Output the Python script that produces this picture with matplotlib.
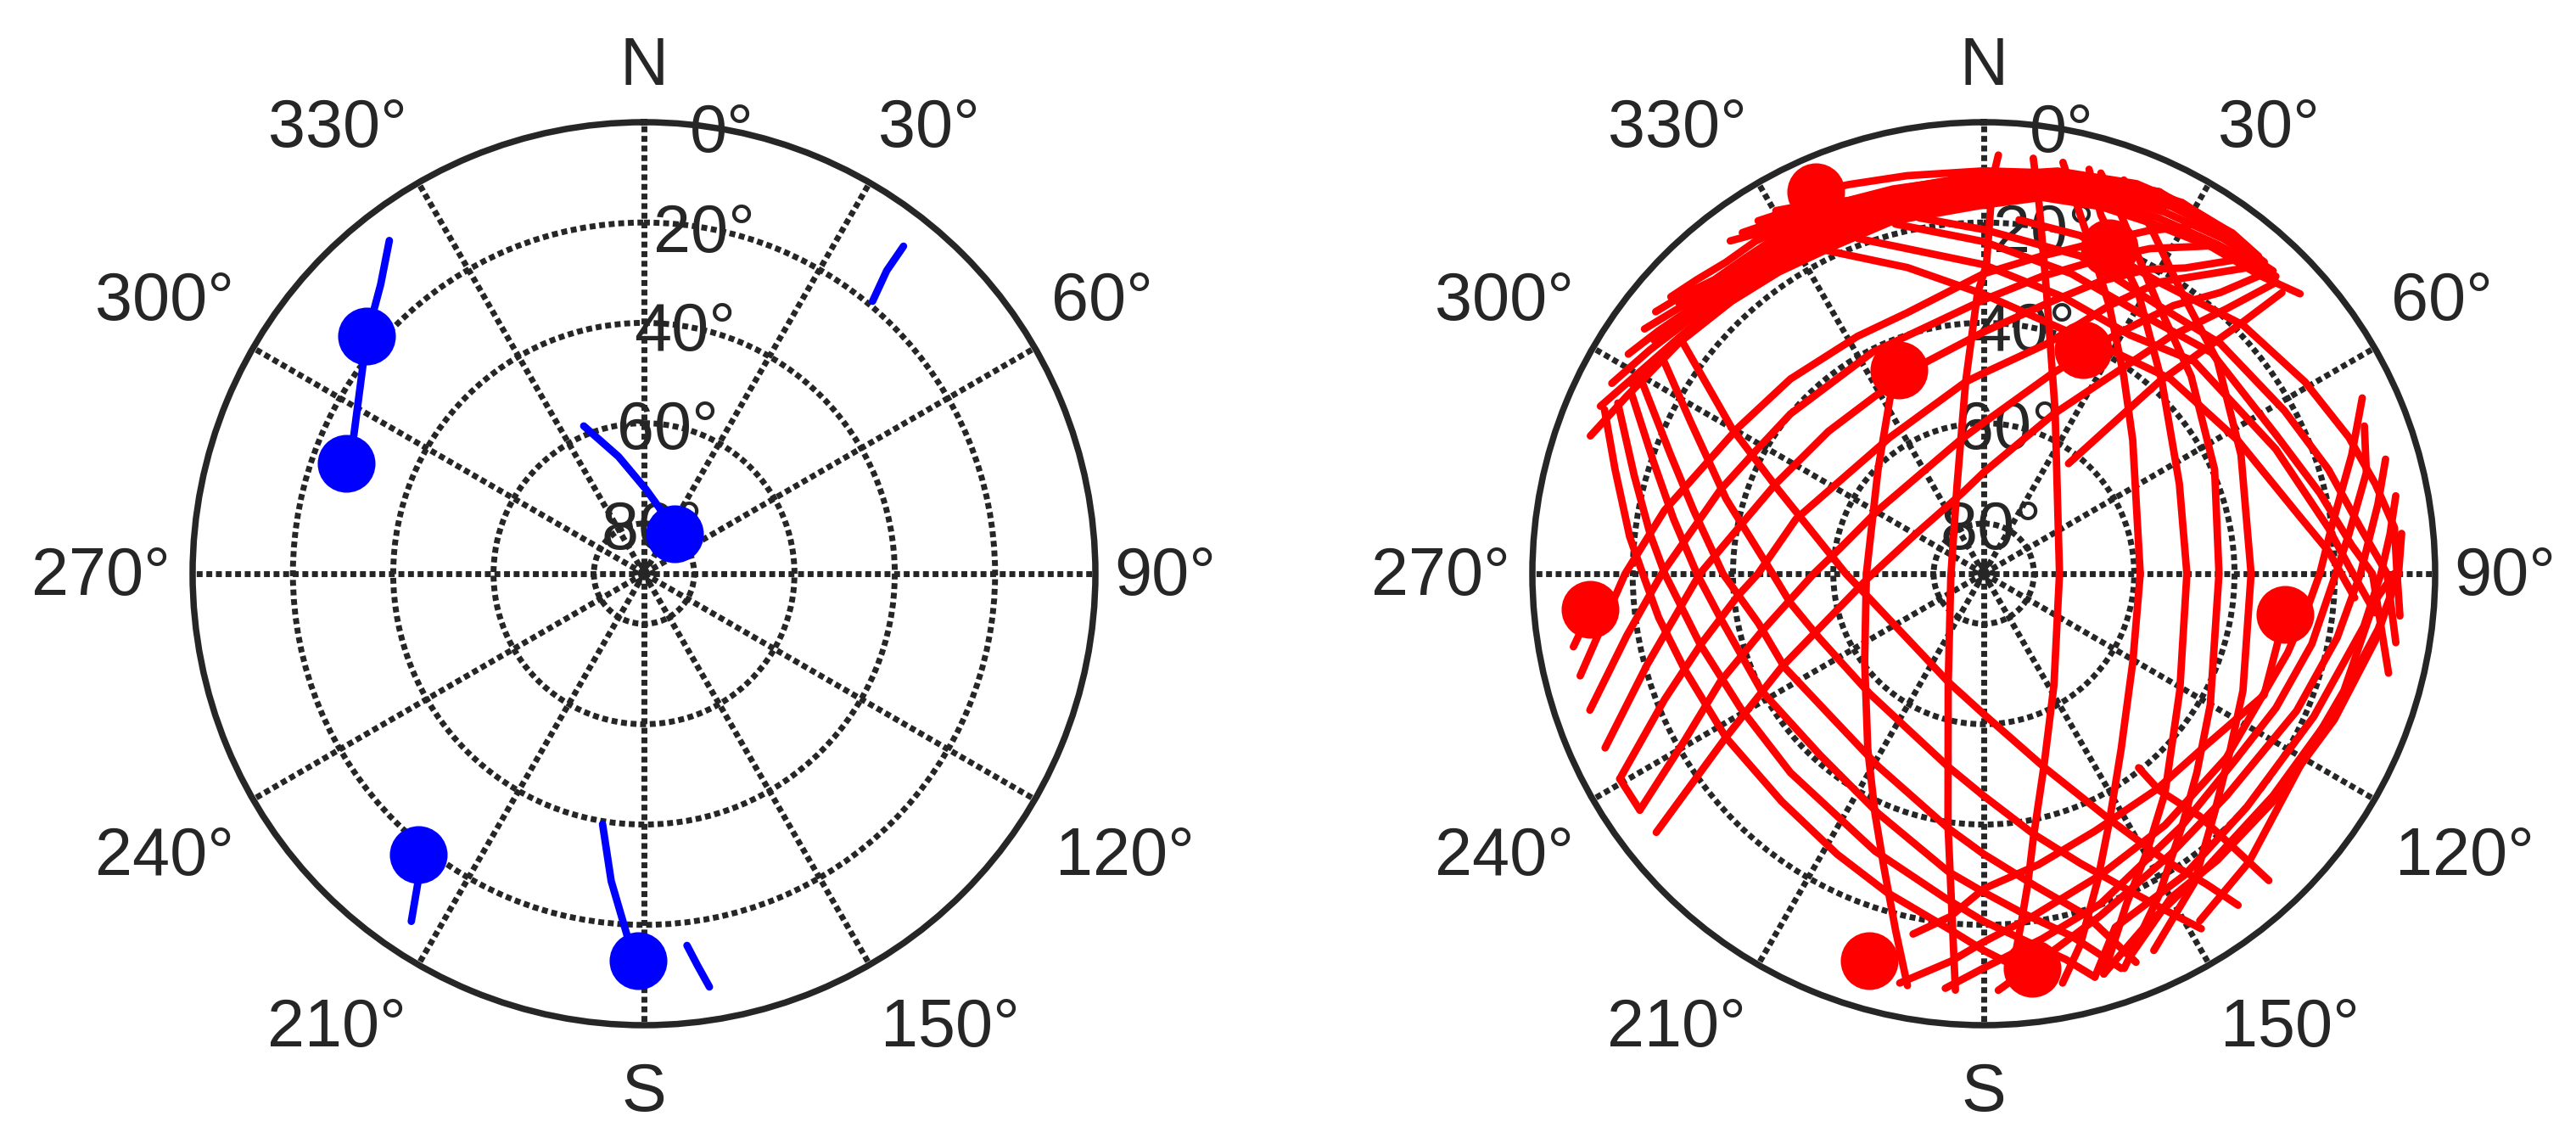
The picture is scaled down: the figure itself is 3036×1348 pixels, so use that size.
# skyplot of two satellite sets, azimuth clockwise from north, elevation 90 in the middle
import numpy as np
import matplotlib
matplotlib.use("Agg")
import matplotlib.pyplot as plt

plt.rcParams['font.family'] = ['Liberation Sans', 'DejaVu Sans']

DARK = "#262626"
W, H = 3036, 1348
CENTER_Y = 676
RADIUS = 532
PANEL_X = [759, 2338]

blue_dot_az = [310.6, 290.3, 37.5, 218.8, 180.9]
blue_dot_el = [17.2, 26.7, 80, 18.2, 12.8]

blue_az = [
    [322.6, 317.7, 314.5, 310.6, 295.5, 290.3],
    [38.4, 38.7, 40],
    [337.8, 347.7, 1.1, 13, 37.5],
    [218.8, 216.1, 213.8],
    [189.4, 186.1, 182.7, 180.9],
    [173.4, 172.2, 171],
]
blue_el = [
    [6.4, 12, 14.6, 17.2, 25.9, 26.7],
    [6.7, 12.6, 19.1],
    [58.2, 66.1, 73.1, 76.5, 80],
    [18.2, 13.4, 6.6],
    [39.4, 28.4, 17.9, 12.8],
    [15.4, 11.1, 6.6],
]

red_dot_az = [336.2, 337.3, 21.1, 23.9, 264.8, 196.5, 97.7, 173]
red_dot_el = [6.8, 46, 20.3, 41.1, 11.1, 9.5, 29.4, 10.8]

red_az = [
    [259.9, 261.2, 267.4],
    [255.8, 260.8, 270, 281.2, 292.3, 300.6, 315.2, 332, 343.6, 0, 10.4, 19.4, 25.5, 30.5],
    [250.9, 260.2, 270, 287.7, 297.2, 309.6, 333.2, 0, 11.1, 20.4, 27.1, 34.8],
    [245.3, 254.9, 270, 282.2, 293.3, 312.5, 328.5, 345.2, 0, 13.4, 21.8, 28.3, 33.4, 38.4],
    [240.6, 248.5, 256.1, 264.9, 270, 286.2, 325.4, 354.6, 0, 15.3, 25.1, 31, 37.2, 40.8],
    [235.5, 240.9, 247.7, 255.3, 270, 280, 300.9, 349.8, 0, 18.6, 28.8, 35.3, 40.1, 42.9],
    [231.7, 237.6, 245.2, 267.8, 299.3, 345.4, 0, 23.7, 33.2, 38.2, 42.5, 45.1],
    [37.6, 42.4, 45.8, 46.7],
    [240.6, 235.5],
    [289.3, 296.4, 307.2, 317.2, 325.8, 335.2, 345.5, 0, 8.8, 17.7, 25.9, 34.9, 43, 48.5],
    [293.6, 300.2, 308.4, 317.4, 326.4, 335.4, 345.7, 0, 8.7, 17.4, 26.2, 35.4, 44.5],
    [297.1, 303.9, 310, 318.1, 327, 335.8, 345.8, 0, 8.6, 18, 26.6, 35.6, 43.7],
    [301.7, 306.8, 312.2, 319.2, 327.6, 336.2, 346, 0, 8.5, 17.8, 27, 36, 42],
    [305.8, 310.2, 314.9, 320.9, 328.2, 336.5, 346.2, 0, 9.3, 18.5, 27.5, 36.1, 40.9],
    [308.6, 313.1, 317.5, 322.6, 328.8, 336.9, 346.3, 0, 9.2, 19.2, 28.2, 35.2],
    [311.5, 315.7, 320.4, 325.5, 330.1, 337.1, 346.5, 0, 10, 19.9, 28.1, 34],
    [322.7, 326.9, 331.5, 337.4, 346.6, 0, 10.9, 20.6, 27, 32],
    [324.7, 329.5, 333.9, 338.4, 346.7, 0, 10.4, 21.4, 26.4, 29.2],
    [327.4, 331.1, 336.9, 340.1, 348.8, 0, 11.6, 24.7],
    [330.2, 334.8, 339.6, 348.7, 0, 10.4, 20.6],
    [336.2, 340.9, 349.1, 0, 8.3, 16.6, 24.7, 32.1, 37.9],
    [2, 1.3, 0.5, 358.7, 354.6, 342.8, 264.4, 197.8, 188.1, 183.9],
    [6.8, 8.6, 12.7, 23.7, 90, 147.7, 162.7, 169.3, 171.9, 173.8, 175.1],
    [10.9, 14.3, 18.5, 25.1, 35.3, 48.1, 90, 120.5, 141.9, 153.2, 159.6, 165.4, 169.1],
    [14.6, 18.1, 29, 42.9, 65.4, 90, 120.8, 140.4, 149.5, 156.6, 163.3],
    [16.3, 21, 32.2, 46.4, 65.7, 90, 120.1, 133, 141.7, 151.4, 160.4],
    [19.6, 25.7, 35.4, 47.7, 65.2, 90, 114.3, 126.4, 136.1, 145.8, 155.7],
    [337.3, 331.7, 314.6, 270, 233.6, 213.5, 204.4, 198.9, 193.9, 190.5],
    [191.1, 185.6, 180, 169.3, 156.7, 141.3, 128.6, 113.4, 97.7],
    [65.1, 72.1, 82.5, 90, 95.7, 104.6, 127.2, 144.2, 158.8, 171.7, 180, 184.8, 191.6],
    [68.8, 75.2, 83.7, 90, 102.1, 114.7, 126.7, 141.7, 160.5, 170.9, 180, 185.3],
    [74.1, 80, 90, 100.3, 113.7, 132.5, 146.3, 161.1, 168.9, 178],
    [79.3, 84.4, 90, 97.9, 113.4, 131.6, 146.3, 159.6, 164.6],
    [84.5, 90, 98, 111.4, 127.5, 143, 156.1, 163.3],
    [90, 99.7, 112.6, 127.6, 140.8, 150, 159.1],
    [90, 94.1, 108, 121, 137.4, 148.1],
    [293.4, 285.8, 276, 270, 262.3, 252.1, 237.6, 221.6, 207.6, 196.9, 185.2, 180, 175.7, 173.5],
    [295, 285.7, 276.8, 270, 256.1, 241.1, 224.2, 201.4, 186.8, 180, 173.2, 168, 164.6],
    [297.1, 288.9, 280, 270, 260.6, 242.3, 222.2, 203.8, 186.8, 180, 173.6, 166.4, 160.8],
    [299.1, 290.8, 282.3, 270, 257.6, 244.9, 225.7, 208.7, 188, 180, 170.5, 163.3, 158.6],
    [303.9, 297.3, 286.2, 270, 261.4, 248.6, 223.7, 190.5, 180, 169.2, 161.6, 155.6, 151.7, 148.5],
    [307.6, 300, 292.2, 270, 256.9, 198.2, 180, 162.5, 152.9, 147.7, 144.4, 142.5],
    [141.4, 141, 138.3, 137.5, 137.1],
    [5.7, 15.9, 31, 46.1, 59.2, 69.5, 77.1, 83.6, 90, 95.8],
    [349.7, 0, 16.9, 33.2, 45.8, 61.6, 73.2, 83.1, 90, 99.5],
    [345.8, 0, 16.3, 32.6, 45.9, 64.5, 76.5, 85.6, 90, 103.8],
    [339.4, 0, 15.9, 31.5, 44.7, 66.9, 82.4, 88.8, 95.7],
    [333.9, 346, 0, 17.9, 30.7, 43.8, 62.3, 79.7, 86.3, 93.7],
    # tracks that cannot be told apart inside the solid band in the north-west
    [305.3, 311.1, 318.6, 327.3, 336, 345.9, 0],
    [311.6, 316.2, 321.7, 328.5, 336.7, 346.2, 0],
    [298.3, 307.8, 317.3, 326.1, 335.3, 345.6, 0],
]
red_el = [
    [6.9, 8.2, 13.5],
    [7, 12, 18.5, 25.1, 30.7, 33, 35.3, 36.4, 35.8, 30.2, 25.6, 19.8, 14.3, 9.7],
    [6.9, 17.8, 25.8, 34.9, 38.1, 40, 40.6, 35.4, 29.6, 23.1, 17.2, 10.4],
    [6.9, 20.5, 33.4, 41, 44.8, 48, 48.5, 46.2, 41.8, 34.5, 27.2, 21.1, 17, 10.3],
    [6.7, 21.6, 32, 40.8, 45, 51, 57, 51.6, 50, 42.5, 31, 22.2, 14.9, 9.4],
    [6.8, 21.8, 33.2, 44.1, 56.1, 60.9, 65.4, 63, 59.9, 48.1, 35.7, 24.5, 16.7, 8.7],
    [6.8, 29.1, 45.6, 66.9, 74.2, 73.3, 69.8, 55.2, 42.2, 29.8, 18.4, 7.7],
    [62.3, 38.2, 18.4, 8.3],
    [6.7, 6.8],
    [6.9, 10.5, 13.8, 16, 17.3, 18.2, 17.4, 16.5, 14.1, 13.2, 12.5, 10.6, 8.9, 5.8],
    [6.6, 10.4, 13.3, 15, 16.1, 16.9, 16.5, 15.6, 13, 12, 11, 9.5, 6.9],
    [6.7, 9.9, 12.3, 14.1, 14.9, 15.8, 15.7, 14.7, 12.4, 10.9, 9.4, 7.9, 6.5],
    [6.7, 9.1, 11.3, 13.2, 13.6, 14.7, 14.8, 13.9, 11.5, 10, 7.8, 6.7, 6.4],
    [6.6, 9, 11, 12.2, 12.4, 13.7, 14, 13, 10.8, 9.1, 6.8, 5.9, 6.3],
    [6.3, 8.4, 10.5, 11.1, 11.2, 12.6, 13.1, 12.4, 10.2, 8.5, 6.2, 6.1],
    [6.7, 8.1, 9.4, 9.6, 10.3, 11.8, 12.5, 11.8, 9.4, 7.8, 6.1, 6.6],
    [6.6, 8.8, 9.3, 11, 11.7, 11.2, 9.2, 7.1, 6.4, 6.4],
    [6.7, 8.4, 9.1, 10.6, 11.2, 10.7, 8.4, 6.5, 6.4, 6.4],
    [6.5, 7.7, 9.5, 10.9, 11.5, 10.4, 9, 6.2],
    [6.6, 8.6, 11, 11.8, 11.2, 9.6, 7.4],
    [6.8, 7.9, 9.2, 9.7, 9.2, 8.4, 6.2, 6.7, 6.5],
    [6.5, 11.2, 28.4, 34.2, 51.6, 71.9, 83.4, 66.8, 39.4, 6.8],
    [6.6, 15.9, 32.9, 54.6, 74.9, 63.8, 49.7, 36.6, 27.6, 20.3, 14.6],
    [6.5, 14.4, 22, 31, 41.7, 50.1, 58.8, 55.5, 45.6, 34.5, 24.8, 13.6, 6.9],
    [6.7, 14.8, 26.3, 37.8, 47.1, 49.5, 44.5, 33.3, 25.8, 18.3, 6.7],
    [6.8, 13.5, 25.5, 32.9, 39.5, 43.1, 37.8, 31.9, 26.1, 17, 6.5],
    [6.7, 13.3, 21.6, 27, 33.5, 36.7, 33.3, 29.2, 23.7, 15.4, 7.6],
    [46, 50.5, 60.4, 66.6, 60.5, 48.1, 37.5, 28.4, 16.8, 6.5],
    [16.8, 21.3, 27.2, 31, 34.1, 34.9, 34.2, 29.1, 29.4],
    [6.8, 12.9, 20.1, 23, 25, 27.4, 29.3, 28.2, 25.6, 21.1, 16.6, 12.5, 6.7],
    [8.6, 11.1, 16.7, 19.8, 23.1, 25.9, 27.6, 26.1, 20.2, 16.3, 11.4, 7],
    [6.7, 10.2, 14.9, 18.4, 21.9, 24.4, 22.8, 18, 14, 6.9],
    [6.4, 8.6, 10.8, 13.5, 18.3, 19.9, 17.8, 14.8, 6.6],
    [6.3, 7.3, 10.6, 14.9, 17.3, 16.4, 12.3, 6.7],
    [7.3, 10.8, 14.3, 16.5, 16.3, 15.4, 8.3],
    [8.2, 11.9, 14.5, 16.2, 11.9, 8.5],
    [7.6, 13.6, 19, 22, 24.6, 27.4, 29.1, 29.3, 26.9, 23.6, 18.6, 14.9, 11.7, 7.9],
    [9.5, 17.6, 23, 26.4, 31.7, 34.6, 34.7, 30.6, 24.9, 20.7, 16.1, 11.4, 6.6],
    [11.1, 20.3, 27.2, 32.8, 36.7, 39.9, 41.3, 37.8, 30.2, 26.5, 22, 15.7, 6.7],
    [12.2, 23.2, 30.8, 38, 44, 46.1, 48.3, 46.2, 38.8, 34.1, 26.8, 18.9, 6.8],
    [12.8, 24.3, 36.5, 47.9, 51, 54.8, 57, 50.9, 45.7, 37.2, 29.2, 20.9, 13.9, 7],
    [14.1, 32, 45.8, 62.5, 66.9, 67.3, 62, 49.4, 35, 22.4, 14, 6.7],
    [40.5, 34.5, 25.2, 14.1, 6.5],
    [19.1, 19.9, 22.2, 18.4, 15.4, 12.3, 9.9, 7.6, 7.6, 6.6],
    [17.9, 21.4, 23.8, 26.2, 24.2, 21.8, 18.2, 14.3, 9.6, 6.7],
    [18.1, 23.8, 27.7, 29.4, 26.7, 25.5, 21.1, 16.4, 12.5, 6.9],
    [18.6, 28.4, 32.6, 34.2, 30.4, 26.7, 20.7, 17.2, 11.6],
    [18.2, 27.1, 34.3, 38.8, 38.7, 36.2, 32.8, 26, 21.1, 15.9],
    [9.5, 11.8, 13.6, 14.3, 15.2, 15.2, 14.3],
    [8.7, 10.7, 11.6, 11.8, 13.2, 13.6, 12.7],
    [10.4, 13.5, 15.5, 16.7, 17.5, 17, 16],
]

elevation_rings = [20, 40, 60, 80, 88.3]
azimuth_grid = np.arange(0, 360, 30)

label_text = ["N", "S", "0°", "30°", "60°", "90°", "120°", "150°", "210°", "240°", "270°", "300°", "330°",
              "20°", "40°", "60°", "80°"]
label_x = [759, 759, 851, 1095, 1299, 1373, 1326, 1120, 397, 194, 119, 194, 398, 830, 807, 787, 768]
label_y = [79, 1288, 159, 153, 357, 681, 1010, 1213, 1213, 1010, 681, 357, 153, 276, 393, 508, 626]


def draw_panel(cx, track_az, track_el, dot_az, dot_el, color):
    ax = plt.axes([(cx - RADIUS) / W, (H - CENTER_Y - RADIUS) / H, 2 * RADIUS / W, 2 * RADIUS / H], polar=True)
    ax.set_theta_zero_location("N")
    ax.set_theta_direction(-1)
    for az, el in zip(track_az, track_el):
        ax.plot(np.radians(az), 90 - np.array(el), color=color, lw=6.3, solid_capstyle="round",
                solid_joinstyle="round", zorder=3)
    ax.plot(np.radians(dot_az), 90 - np.array(dot_el), "o", color=color, ms=49, mew=0, zorder=4, clip_on=False)
    ax.set_ylim(0, 90)
    ax.set_thetagrids(azimuth_grid, labels=[])
    ax.set_rgrids([90 - e for e in elevation_rings], labels=[])
    ax.grid(True, color=DARK, ls=(0, (1, 0.63)), lw=5)
    ax.spines["polar"].set_linewidth(5.4)
    ax.spines["polar"].set_color(DARK)
    for txt, x, y in zip(label_text, label_x, label_y):
        ax.text((x + cx - PANEL_X[0]) / W, 1 - y / H, txt, transform=plt.gcf().transFigure,
                ha="center", va="center", fontsize=57, color=DARK, zorder=2, clip_on=False)


def main():
    fig = plt.figure(figsize=(W / 100, H / 100), dpi=100)
    draw_panel(PANEL_X[0], blue_az, blue_el, blue_dot_az, blue_dot_el, "#0000ff")
    draw_panel(PANEL_X[1], red_az, red_el, red_dot_az, red_dot_el, "#ff0000")
    fig.savefig("out.png", dpi=100)


if __name__ == "__main__":
    main()
